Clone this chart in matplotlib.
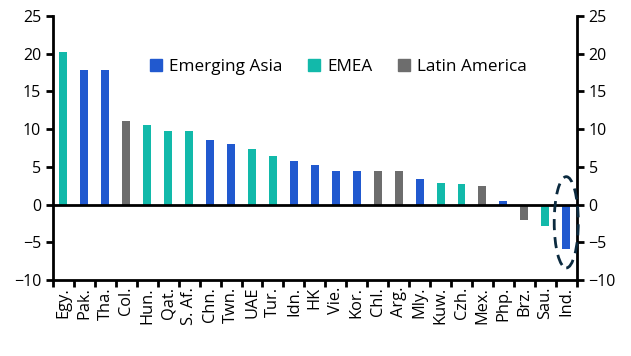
import matplotlib
matplotlib.use('Agg')
import matplotlib.pyplot as plt
import numpy as np
from matplotlib.patches import Ellipse, Patch

plt.rcParams['font.family'] = ['Open Sans', 'DejaVu Sans']

COUNTRIES = ['Egy.', 'Pak.', 'Tha.', 'Col.', 'Hun.', 'Qat.', 'S. Af.', 'Chn.',
             'Twn.', 'UAE', 'Tur.', 'Idn.', 'HK', 'Vie.', 'Kor.', 'Chl.',
             'Arg.', 'Mly.', 'Kuw.', 'Czh.', 'Mex.', 'Php.', 'Brz.', 'Sau.', 'Ind.']
VALUES = [20.2, 17.8, 17.8, 11.1, 10.5, 9.8, 9.7, 8.6,
          8.0, 7.4, 6.4, 5.8, 5.3, 4.5, 4.5, 4.4,
          4.4, 3.4, 2.8, 2.7, 2.5, 0.5, -2.0, -2.8, -5.9]
REGIONS = ['EMEA', 'Asia', 'Asia', 'LatAm', 'EMEA', 'EMEA', 'EMEA', 'Asia',
           'Asia', 'EMEA', 'EMEA', 'Asia', 'Asia', 'Asia', 'Asia', 'LatAm',
           'LatAm', 'Asia', 'EMEA', 'EMEA', 'LatAm', 'Asia', 'LatAm', 'EMEA', 'Asia']
REGION_LABELS = {'Asia': 'Emerging Asia', 'EMEA': 'EMEA', 'LatAm': 'Latin America'}
COLORS = {'Asia': '#2159CF', 'EMEA': '#12B9AA', 'LatAm': '#6D6D6D'}

fig = plt.figure(figsize=(6.31, 3.56), dpi=100)
ax = fig.add_axes([0.084, 0.2135, 0.83, 0.7415])

x = np.arange(len(COUNTRIES))
ax.bar(x, VALUES, width=0.38, color=[COLORS[r] for r in REGIONS], zorder=2)
ax.axhline(0, color='black', lw=2, zorder=3)

ax.set_xlim(-0.5, len(COUNTRIES) - 0.5)
ax.set_ylim(-10, 25)
ax.set_yticks(range(-10, 30, 5))
ax.set_xticks(x)
ax.set_xticklabels(COUNTRIES, rotation=90)
ax.set_xticks(np.arange(-0.5, len(COUNTRIES), 1), minor=True)
ax.tick_params(axis='x', which='major', length=0, labelsize=11.8, pad=5)
ax.tick_params(axis='x', which='minor', length=5, width=2, direction='out')
ax.tick_params(axis='y', labelsize=11.5, length=5, width=2, direction='out',
               left=True, right=True, labelleft=True, labelright=True)

for side in ['left', 'right', 'bottom']:
    ax.spines[side].set_linewidth(2)
ax.spines['top'].set_visible(False)

# highlight India
ax.add_patch(Ellipse((len(COUNTRIES) - 1, -2.35), 1.15, 12.1, fill=False,
                     edgecolor='#0B2A3F', lw=2, ls=(0, (4, 2.5)), zorder=4,
                     clip_on=False))

handles = [Patch(color=COLORS[k], label=REGION_LABELS[k]) for k in ['Asia', 'EMEA', 'LatAm']]
ax.legend(handles=handles, loc='center', bbox_to_anchor=(0.545, 0.807), ncol=3,
          frameon=False, fontsize=12.3, handlelength=0.7, handleheight=0.7,
          handletextpad=0.4, columnspacing=1.5, borderpad=0, borderaxespad=0)

fig.savefig('out.png', dpi=100)
